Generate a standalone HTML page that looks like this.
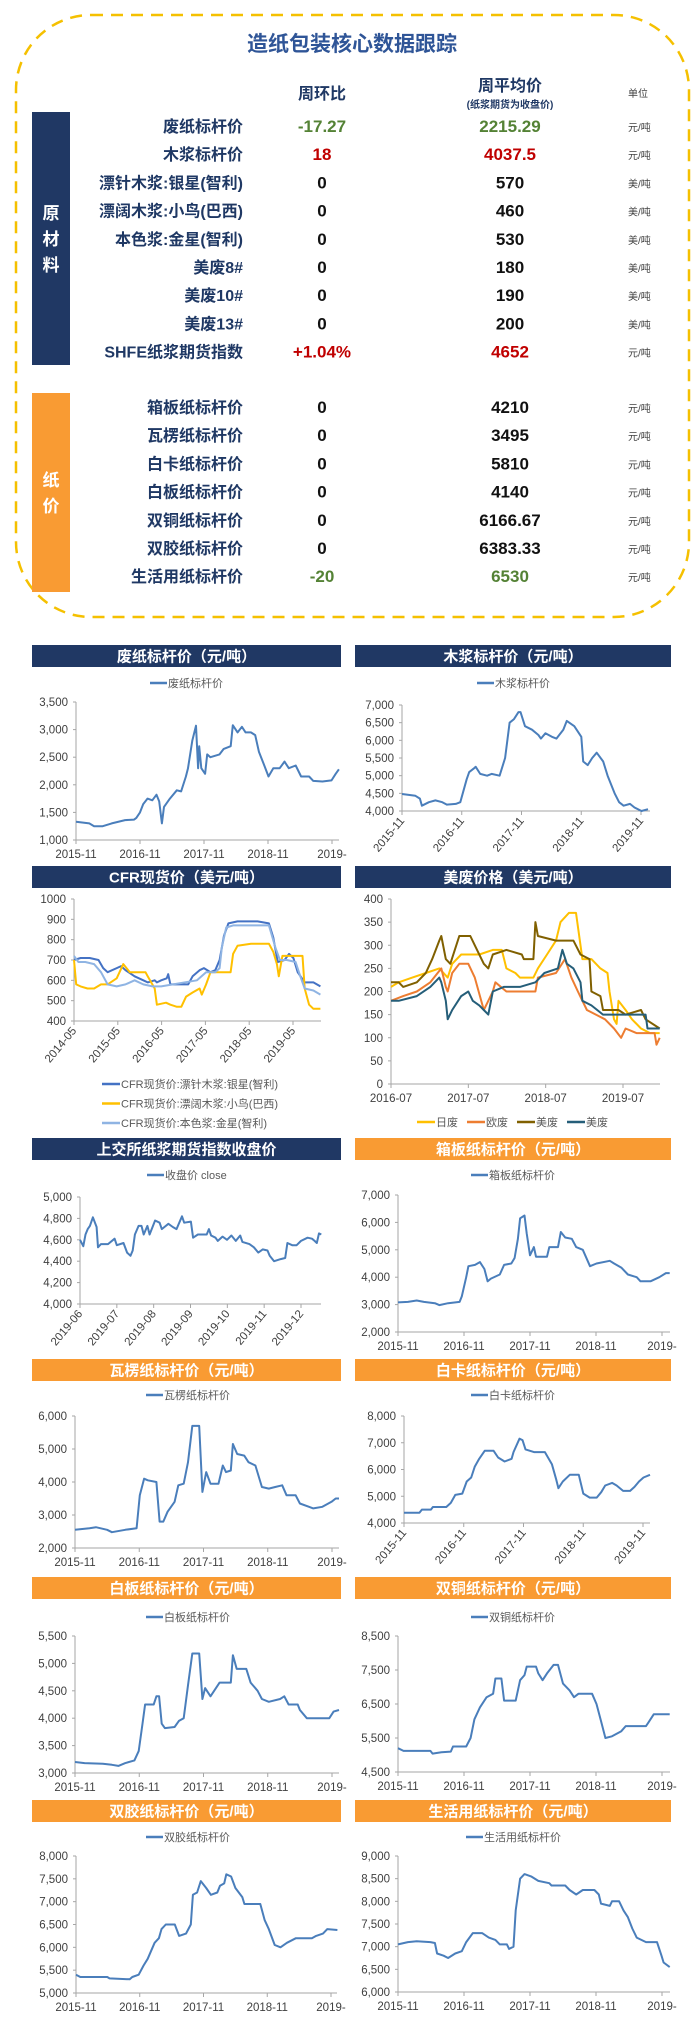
<!DOCTYPE html>
<html><head><meta charset="utf-8"><style>
body{margin:0;background:#fff;width:700px;height:2035px;overflow:hidden;font-family:"Liberation Sans","Noto Sans CJK SC",sans-serif}
svg text{font-family:"Liberation Sans","Noto Sans CJK SC",sans-serif}
</style></head><body>
<svg id="page" width="700" height="2035" viewBox="0 0 700 2035" xmlns="http://www.w3.org/2000/svg">
<g id="tbl">
<rect x="16" y="15" width="673" height="602" rx="75" fill="none" stroke="#f5c000" stroke-width="2.5" stroke-dasharray="12 8"/>
<text x="352" y="51" text-anchor="middle" font-size="21" font-weight="bold" fill="#2f5597">造纸包装核心数据跟踪</text>
<text x="322" y="99" text-anchor="middle" font-size="16" font-weight="bold" fill="#1f3864">周环比</text>
<text x="510" y="91" text-anchor="middle" font-size="16" font-weight="bold" fill="#1f3864">周平均价</text>
<text x="510" y="108" text-anchor="middle" font-size="10" font-weight="bold" fill="#1f3864">(纸浆期货为收盘价)</text>
<text x="628" y="97" font-size="10" fill="#404040">单位</text>
<rect x="32" y="112" width="38" height="253" fill="#203864"/>
<text x="51" y="219" text-anchor="middle" font-size="17" font-weight="bold" fill="#fff">原</text>
<text x="51" y="245" text-anchor="middle" font-size="17" font-weight="bold" fill="#fff">材</text>
<text x="51" y="271" text-anchor="middle" font-size="17" font-weight="bold" fill="#fff">料</text>
<rect x="32" y="393" width="38" height="199" fill="#f99b33"/>
<text x="51" y="486" text-anchor="middle" font-size="17" font-weight="bold" fill="#fff">纸</text>
<text x="51" y="512" text-anchor="middle" font-size="17" font-weight="bold" fill="#fff">价</text>
</g>
<g id="charts"></g>
</svg>
<script>
const NS='http://www.w3.org/2000/svg';
function mk(tag,attrs,parent,txt){const e=document.createElementNS(NS,tag);for(const k in attrs)e.setAttribute(k,attrs[k]);if(txt!==undefined)e.textContent=txt;parent.appendChild(e);return e;}

// ---- table data ----
const rawLabels=['废纸标杆价','木浆标杆价','漂针木浆:银星(智利)','漂阔木浆:小鸟(巴西)','本色浆:金星(智利)','美废8#','美废10#','美废13#','SHFE纸浆期货指数'];
const rawWow=['-17.27','18','0','0','0','0','0','0','+1.04%'];
const rawAvg=['2215.29','4037.5','570','460','530','180','190','200','4652'];
const rawUnit=['元/吨','元/吨','美/吨','美/吨','美/吨','美/吨','美/吨','美/吨','元/吨'];
const paperLabels=['箱板纸标杆价','瓦楞纸标杆价','白卡纸标杆价','白板纸标杆价','双铜纸标杆价','双胶纸标杆价','生活用纸标杆价'];
const paperWow=['0','0','0','0','0','0','-20'];
const paperAvg=['4210','3495','5810','4140','6166.67','6383.33','6530'];
const paperUnit=['元/吨','元/吨','元/吨','元/吨','元/吨','元/吨','元/吨'];

const tbl=document.getElementById('tbl');
function col(v){if(v.startsWith('-'))return '#548235';if(v.startsWith('+')||v==='18')return '#c00000';return '#111';}
function rows(labels,wow,avg,unit,y0,prefix){
  labels.forEach((l,i)=>{
    const y=y0+i*28.2+6;
    const g=mk('g',{},tbl);
    
    
    const c=col(wow[i]);
    mk('text',{x:243,y:y,'text-anchor':'end','font-size':16,'font-weight':'bold',fill:'#1f3864'},g,l);
    mk('text',{x:322,y:y,'text-anchor':'middle','font-size':17,'font-weight':'bold',fill:c},g,wow[i]);
    mk('text',{x:510,y:y,'text-anchor':'middle','font-size':17,'font-weight':'bold',fill:c},g,avg[i]);
    mk('text',{x:628,y:y-1,'font-size':10,fill:'#404040'},g,unit[i]);
  });
}
rows(rawLabels,rawWow,rawAvg,rawUnit,126,'raw-material');
rows(paperLabels,paperWow,paperAvg,paperUnit,407,'paper-price');

// ---- chart data (x = months from first tick) ----
const wasteM=[0,2.5,3.4,5,6.7,9.2,10.9,11.3,12,12.6,13.4,14.3,15.1,15.6,16.1,16.5,17.6,18.9,19.7,20.6,21,21.8,22.5,22.9,23.1,23.5,24.2,24.6,25.2,26.9,27.7,29,29.4,30.3,31.1,31.8,32.8,33.6,34.3,35.3,36.1,37,38.2,39.1,39.9,41.2,42.2,43.7,44.5,46.2,47.9,48.7,49.3];
const wasteV=[1330,1300,1250,1250,1300,1360,1370,1400,1500,1650,1750,1720,1820,1700,1300,1600,1750,1900,1880,2150,2300,2800,3070,2300,2700,2300,2200,2550,2500,2550,2650,2700,3080,2950,3050,2950,2950,2900,2600,2350,2150,2300,2300,2420,2300,2350,2150,2150,2070,2060,2080,2200,2280];
const pulpM=[0,2.7,3.6,4,5.4,6.7,8.1,9,10.8,11.7,13,13.5,14.4,14.8,15.7,17.1,18,19.6,20.7,21.6,22.5,23.4,23.8,24.7,26.1,27.4,27.9,28.8,30.1,31,32.4,33.1,34.6,36,36.4,37.3,38.2,39.1,40.4,41.3,42.7,43.6,44.5,45.8,46.7,48.1,49.4];
const pulpV=[4480,4430,4350,4150,4250,4300,4250,4180,4200,4250,4900,5100,5200,5250,5050,5000,5050,5000,5500,6500,6600,6800,6800,6400,6300,6150,6050,6200,6100,6050,6300,6550,6400,6100,5400,5300,5500,5650,5400,5000,4500,4250,4150,4200,4100,4000,4050];
const cfrAM=[0,1.8,4.3,6.7,8,9.2,11.7,12.9,14.1,16.6,19,20.2,22.1,22.7,23.9,25.4,25.8,26.4,28.8,31.3,32.5,34.4,35.6,37.4,38.7,39.9,41.1,42.3,44.8,50.3,53.4,54.6,55.8,57.7,58.9,60.1,61.3,63.2,65.6,67.5];
const cfrAV=[700,710,710,700,660,640,660,670,650,620,600,590,600,590,600,610,630,580,580,580,620,650,660,640,650,700,820,880,890,890,880,810,690,700,730,710,640,590,590,570];
const cfrBM=[0,0.6,1.8,3.7,5.5,7.4,9.2,11.7,13.5,15.3,17.8,19.6,20.2,22.1,22.7,25.2,26.4,28.2,29.4,30.7,32.5,34.4,35,36.2,37.4,41.1,42.9,43.6,44.8,48.5,53.4,54.6,55.6,56.1,57.1,59.5,62.6,63.2,64.4,65.6,67.5];
const cfrBV=[700,580,570,560,560,580,580,610,680,640,640,640,620,560,480,490,480,470,470,520,540,560,530,580,640,640,640,730,770,780,780,740,680,620,720,720,720,560,480,460,460];
const cfrCM=[0,1.2,3.1,5.5,7.4,9.2,11.7,14.1,16.6,19,21.5,23.9,33.7,36.2,38.7,39.9,40.5,41.7,43.6,48.5,53.4,55.2,56.4,58.3,60.7,62,63.2,65.6,67.5];
const cfrCV=[720,690,690,680,640,580,570,580,600,580,570,570,600,640,640,660,760,860,870,870,870,760,700,700,690,620,560,550,530];
const jpM=[0,1.2,3.3,5.4,7.5,8.8,9.5,10.9,12.3,13.7,15.8,17.2,17.9,19.3,20,22.1,22.8,24.2,25.6,26.3,27.6,28.7,29.4,29.7,31.1,32.5,33.6,33.9,34.6,35,35.3,36.4,37.4,38.8,40.2,41.7];
const jpV=[210,220,230,240,250,230,260,280,280,280,290,290,250,240,230,230,250,280,310,350,370,370,300,270,270,250,240,200,140,130,180,160,140,120,110,110];
const euM=[0,1.9,4,6.1,7.8,8.5,8.8,9.5,10.6,12,13,14.4,15.1,15.8,16.2,17.9,22.4,22.8,25.6,27,28,29,29.7,30.4,31.8,33.2,34.6,35.7,36.4,38.1,40.9,41.2,41.7];
const euV=[180,190,200,220,250,210,200,240,260,260,230,160,180,200,220,200,200,230,240,270,230,200,180,160,150,140,120,100,120,110,110,85,100];
const us1M=[0,1.2,1.9,4,5.4,6.4,7.5,7.8,8.5,9.2,9.9,10.6,12.3,13,14.4,15.1,15.8,17.9,20.3,20.6,22.1,22.4,22.8,25.6,28.3,29.4,30.8,31.1,32.5,32.9,35.3,36.4,38.8,39.5,41.7];
const us1V=[220,220,210,220,240,270,310,320,270,260,290,320,320,300,260,250,280,290,280,270,270,350,320,310,310,280,270,200,190,160,160,150,160,140,120];
const us2M=[0,1.2,4,6.1,7.5,7.8,8.5,8.8,9.5,10.9,12,12.7,13.7,14.4,15.1,15.8,17.5,20,22.4,23.8,25.9,26.6,27.3,28.3,29.4,29.7,31.1,32.9,35.3,39.5,39.8,41.7];
const us2V=[180,180,190,210,230,220,180,140,160,190,200,180,170,160,150,200,210,210,220,240,250,290,260,250,220,180,170,150,150,150,120,120];
const shfeM=[0,.09,.15,.21,.27,.35,.45,.49,.57,.76,.94,1,1.18,1.28,1.37,1.43,1.49,1.59,1.67,1.73,1.83,1.89,2.04,2.16,2.22,2.4,2.52,2.62,2.77,2.83,3.01,3.07,3.2,3.44,3.5,3.56,3.68,3.74,3.87,3.99,4.11,4.23,4.35,4.41,4.6,4.72,4.84,4.96,5.09,5.15,5.27,5.45,5.57,5.63,5.76,5.88,6,6.18,6.3,6.37,6.43,6.49,6.55];
const shfeV=[4600,4540,4650,4700,4730,4810,4720,4530,4560,4560,4610,4550,4570,4480,4450,4500,4650,4730,4730,4650,4730,4650,4780,4760,4700,4750,4720,4700,4820,4760,4770,4620,4650,4650,4700,4640,4620,4590,4630,4600,4640,4590,4640,4580,4560,4530,4480,4510,4500,4450,4400,4420,4430,4570,4550,4550,4590,4620,4610,4590,4570,4660,4650];
const boxM=[0,1.8,3.4,4.7,6.7,7.5,9.1,11.2,11.6,12.4,12.8,14,14.9,15.7,16.3,16.9,18.5,19.3,20.6,21.2,21.8,22.2,23,23.4,24,24.7,25.1,27.1,27.5,29.1,29.6,30.4,31.6,32.4,33.6,34.9,36.1,38.5,39.3,40.6,41.8,43.4,44.1,45.9,47.5,48.7,49.4];
const boxV=[3080,3100,3150,3100,3050,2980,3050,3100,3300,4000,4400,4450,4550,4300,3850,3950,4100,4450,4500,4700,5400,6150,6250,5600,4800,5100,4750,4750,5100,5100,5650,5450,5400,5100,5000,4400,4500,4600,4500,4350,4100,4000,3850,3850,4000,4150,4150];
const corrM=[0,2.7,3.9,6,6.9,9.4,11.5,12.1,12.9,13.6,15.2,15.8,16.5,17.3,18.6,19.3,20.3,21.1,21.9,23.2,23.8,24.5,25.3,26.8,27.6,28.2,29.1,29.5,30.3,31.6,32.4,33.7,34.9,36.2,37.4,38.7,39.5,41.2,42,43.7,44.5,46.2,47.9,48.7,49.3];
const corrV=[2550,2600,2630,2550,2480,2550,2600,3600,4100,4050,4000,2800,2800,3100,3400,3900,3950,4600,5700,5700,3700,4300,3950,3950,4500,4300,4350,5150,4850,4800,4600,4500,3850,3800,3850,3900,3600,3600,3350,3250,3200,3250,3400,3500,3500];
const ivoryM=[0,3.1,3.6,5.4,5.8,8.5,9.4,10.3,11.7,12.6,13.5,14.2,15.1,16.2,18,18.9,20.2,21.6,22,23.2,23.8,24.4,26.1,28.3,29.7,30.6,31,31.9,33.3,35.1,36,37.3,38.7,39.6,40.4,41.8,42.7,44,45.4,46.3,47.2,48.1,49.4];
const ivoryV=[4380,4380,4500,4500,4600,4600,4750,5050,5100,5550,5700,6100,6400,6700,6700,6450,6300,6400,6650,7150,7100,6750,6650,6650,6200,5600,5300,5550,5800,5800,5100,4950,4950,5150,5400,5500,5400,5200,5200,5350,5550,5700,5800];
const whiteM=[0,1.8,5.2,6.9,8.1,9.4,11.1,11.9,12.6,13.1,14.7,15.2,15.7,16.2,16.8,18.6,19.4,20.3,21.1,21.9,23.2,23.8,24.3,25.3,27,29.1,29.5,30.2,32,32.8,34.1,34.9,36.2,38.3,39.1,39.9,41.6,42,43.3,47.5,48.3,49.3];
const whiteV=[3200,3180,3170,3150,3130,3180,3230,3400,3900,4250,4250,4400,4400,3900,3820,3840,3950,4000,4600,5180,5180,4350,4550,4400,4650,4650,5150,4900,4900,4650,4500,4350,4300,4350,4400,4250,4250,4150,4000,4000,4120,4150];
const coatM=[0,1,5.9,6.3,7.9,9.6,10,12.4,13.2,13.9,14.9,16.1,17.3,17.7,18.8,19.3,21.4,22.2,23,23.4,25.1,25.5,26.3,27.1,28.3,29.1,30,31.2,32,32.8,35.3,36.1,36.9,37.7,38.9,40.6,41.4,45.1,45.5,46.5,49.4];
const coatV=[5200,5120,5120,5040,5080,5100,5250,5250,5500,6050,6400,6700,6800,7250,7250,6600,6600,7200,7350,7600,7600,7400,7200,7400,7650,7650,7100,6900,6700,6800,6800,6500,6000,5500,5550,5700,5850,5850,5950,6200,6200];
const offM=[0,.8,5.9,6.3,10.1,10.6,11.8,12.7,13.5,14.8,15.6,16.1,16.9,18.6,19.4,20.7,21.6,22,22.8,23.5,24.5,25.4,26.6,27.1,27.9,28.3,29.2,30,31.3,31.7,34.7,35.5,36.3,37.4,38.5,39.7,41.4,44.4,45.2,46.5,47.3,49.2];
const offV=[5400,5350,5350,5320,5300,5350,5400,5600,5750,6100,6200,6400,6500,6500,6250,6300,6500,7150,7200,7450,7300,7150,7200,7350,7400,7600,7550,7300,7100,6950,6950,6600,6400,6050,6000,6100,6200,6200,6250,6300,6400,6380];
const tissueM=[0,1.8,3.4,5.9,6.7,7.1,8.3,9.1,10.4,11.6,12.4,13.6,15.3,16.5,17.7,18.5,19.8,20.2,21,21.4,22.2,23,24.2,25.5,27.5,27.9,30.4,31.2,32.4,33.6,35.7,36.5,36.9,38.5,38.9,40.2,41,41.8,42.6,43.4,45.1,47.1,47.9,48.3,49.4];
const tissueV=[7050,7100,7120,7100,7080,6850,6800,6750,6850,6900,7100,7300,7300,7200,7150,7050,7050,6950,7000,7800,8500,8600,8550,8450,8400,8350,8350,8250,8150,8250,8250,8150,7950,7900,8000,8000,7800,7650,7400,7200,7100,7100,6800,6650,6550];

const yearTicks=['2015-11','2016-11','2017-11','2018-11','2019-'];
const yearTicksR=['2015-11','2016-11','2017-11','2018-11','2019-11'];
const cfrTicks=['2014-05','2015-05','2016-05','2017-05','2018-05','2019-05'];
const usTicks=['2016-07','2017-07','2018-07','2019-07'];
const shfeTicks=['2019-06','2019-07','2019-08','2019-09','2019-10','2019-11','2019-12'];

const BLUE='#4a7ebb';
const charts=[
 {name:'waste-paper',title:'废纸标杆价（元/吨）',hc:'#203864',hx:32,hw:309,H:645,x0:76,x1:339,tx1:332,tspan:48,yt:702,yb:840,ymin:1000,ymax:3500,ystep:500,comma:1,ticks:yearTicks,rot:0,
  series:[{n:'废纸标杆价',m:wasteM,v:wasteV,c:BLUE}],leg:{y:683,x:150}},
 {name:'wood-pulp',title:'木浆标杆价（元/吨）',hc:'#203864',hx:355,hw:316,H:645,x0:402,x1:650,tx1:641,tspan:48,yt:705,yb:811,ymin:4000,ymax:7000,ystep:500,comma:1,ticks:yearTicksR,rot:1,
  series:[{n:'木浆标杆价',m:pulpM,v:pulpV,c:BLUE}],leg:{y:683,x:477}},
 {name:'cfr-spot',title:'CFR现货价（美元/吨）',hc:'#203864',hx:32,hw:309,H:866,x0:74,x1:321,tx1:293,tspan:60,yt:899,yb:1021,ymin:400,ymax:1000,ystep:100,comma:0,ticks:cfrTicks,rot:1,
  series:[{n:'CFR现货价:漂针木浆:银星(智利)',m:cfrAM,v:cfrAV,c:'#4472c4'},{n:'CFR现货价:漂阔木浆:小鸟(巴西)',m:cfrBM,v:cfrBV,c:'#ffc000'},{n:'CFR现货价:本色浆:金星(智利)',m:cfrCM,v:cfrCV,c:'#8fb4e3'}],legV:{x:102,y:1084,dy:19.5}},
 {name:'us-waste',title:'美废价格（美元/吨）',hc:'#203864',hx:355,hw:316,H:866,x0:391,x1:660,tx1:623,tspan:36,yt:899,yb:1084,ymin:0,ymax:400,ystep:50,comma:0,ticks:usTicks,rot:0,
  series:[{n:'日废',m:jpM,v:jpV,c:'#ffc000'},{n:'欧废',m:euM,v:euV,c:'#ed7d31'},{n:'美废',m:us1M,v:us1V,c:'#806000'},{n:'美废',m:us2M,v:us2V,c:'#255e79'}],legH:{x:417,y:1122,dx:50}},
 {name:'shfe-pulp',title:'上交所纸浆期货指数收盘价',hc:'#203864',hx:32,hw:309,H:1138,x0:80,x1:321,tx1:301,tspan:6,yt:1197,yb:1304,ymin:4000,ymax:5000,ystep:200,comma:1,ticks:shfeTicks,rot:1,
  series:[{n:'收盘价 close',m:shfeM,v:shfeV,c:BLUE}],leg:{y:1175,x:147}},
 {name:'boxboard',title:'箱板纸标杆价（元/吨）',hc:'#f99b33',hx:355,hw:316,H:1138,x0:398,x1:670,tx1:662,tspan:48,yt:1195,yb:1332,ymin:2000,ymax:7000,ystep:1000,comma:1,ticks:yearTicks,rot:0,
  series:[{n:'箱板纸标杆价',m:boxM,v:boxV,c:BLUE}],leg:{y:1175,x:471}},
 {name:'corrugated',title:'瓦楞纸标杆价（元/吨）',hc:'#f99b33',hx:32,hw:309,H:1359,x0:75,x1:339,tx1:332,tspan:48,yt:1416,yb:1548,ymin:2000,ymax:6000,ystep:1000,comma:1,ticks:yearTicks,rot:0,
  series:[{n:'瓦楞纸标杆价',m:corrM,v:corrV,c:BLUE}],leg:{y:1395,x:146}},
 {name:'ivory-board',title:'白卡纸标杆价（元/吨）',hc:'#f99b33',hx:355,hw:316,H:1359,x0:404,x1:650,tx1:643,tspan:48,yt:1416,yb:1523,ymin:4000,ymax:8000,ystep:1000,comma:1,ticks:yearTicksR,rot:1,
  series:[{n:'白卡纸标杆价',m:ivoryM,v:ivoryV,c:BLUE}],leg:{y:1395,x:471}},
 {name:'white-board',title:'白板纸标杆价（元/吨）',hc:'#f99b33',hx:32,hw:309,H:1577,x0:75,x1:339,tx1:332,tspan:48,yt:1636,yb:1773,ymin:3000,ymax:5500,ystep:500,comma:1,ticks:yearTicks,rot:0,
  series:[{n:'白板纸标杆价',m:whiteM,v:whiteV,c:BLUE}],leg:{y:1617,x:146}},
 {name:'coated-paper',title:'双铜纸标杆价（元/吨）',hc:'#f99b33',hx:355,hw:316,H:1577,x0:398,x1:670,tx1:662,tspan:48,yt:1636,yb:1772,ymin:4500,ymax:8500,ystep:1000,comma:1,ticks:yearTicks,rot:0,
  series:[{n:'双铜纸标杆价',m:coatM,v:coatV,c:BLUE}],leg:{y:1617,x:471}},
 {name:'offset-paper',title:'双胶纸标杆价（元/吨）',hc:'#f99b33',hx:32,hw:309,H:1800,x0:76,x1:337,tx1:331,tspan:48,yt:1856,yb:1993,ymin:5000,ymax:8000,ystep:500,comma:1,ticks:yearTicks,rot:0,
  series:[{n:'双胶纸标杆价',m:offM,v:offV,c:BLUE}],leg:{y:1837,x:146}},
 {name:'tissue-paper',title:'生活用纸标杆价（元/吨）',hc:'#f99b33',hx:355,hw:316,H:1800,x0:398,x1:670,tx1:662,tspan:48,yt:1856,yb:1992,ymin:6000,ymax:9000,ystep:500,comma:1,ticks:yearTicks,rot:0,
  series:[{n:'生活用纸标杆价',m:tissueM,v:tissueV,c:BLUE}],leg:{y:1837,x:466}}
];

const root=document.getElementById('charts');
function fmt(v,c){return c?v.toLocaleString('en-US'):String(v);}
charts.forEach(cf=>{
  const g=mk('g',{},root);
  
  
  const hr=mk('rect',{x:cf.hx,y:cf.H,width:cf.hw,height:22,fill:cf.hc},g);
  
  
  const ht=mk('text',{x:cf.hx+cf.hw/2,y:cf.H+16.5,'text-anchor':'middle','font-size':15,'font-weight':'bold',fill:'#fff'},g,cf.title);
  
  
  const xs=m=>cf.x0+(cf.tx1-cf.x0)*m/cf.tspan;
  const ys=v=>cf.yb-(v-cf.ymin)/(cf.ymax-cf.ymin)*(cf.yb-cf.yt);
  // y axis
  const ya=mk('line',{x1:cf.x0,y1:cf.yt,x2:cf.x0,y2:cf.yb,stroke:'#a6a6a6','stroke-width':1},g);
  
  
  for(let v=cf.ymin;v<=cf.ymax+1e-6;v+=cf.ystep){
    mk('line',{x1:cf.x0-3,y1:ys(v),x2:cf.x0,y2:ys(v),stroke:'#a6a6a6'},g);
    const t=mk('text',{x:cf.x0-8,y:ys(v)+4,'text-anchor':'end','font-size':11.5,fill:'#404040'},g,fmt(v,cf.comma));
    
    
  }
  const xa=mk('line',{x1:cf.x0,y1:cf.yb,x2:cf.x1,y2:cf.yb,stroke:'#a6a6a6','stroke-width':1},g);
  
  
  const step=cf.tspan/(cf.ticks.length-1);
  cf.ticks.forEach((lab,i)=>{
    const x=xs(i*step);
    mk('line',{x1:x,y1:cf.yb,x2:x,y2:cf.yb+4,stroke:'#a6a6a6'},g);
    let t;
    if(cf.rot){t=mk('text',{x:x+3,y:cf.yb+10,'text-anchor':'end','font-size':11.5,fill:'#404040',transform:`rotate(-50 ${x+3} ${cf.yb+10})`},g,lab);}
    else{t=mk('text',{x:x,y:cf.yb+18,'text-anchor':'middle','font-size':11.5,fill:'#404040'},g,lab);}
    
    
  });
  // series
  cf.series.forEach((s,si)=>{
    const pts=s.m.map((m,i)=>xs(m).toFixed(1)+','+ys(s.v[i]).toFixed(1)).join(' ');
    const pl=mk('polyline',{points:pts,fill:'none',stroke:s.c,'stroke-width':2,'stroke-linejoin':'round'},g);
    
    
  });
  // legends
  if(cf.leg){
    const lg=mk('g',{},g);
    
    
    mk('line',{x1:cf.leg.x,y1:cf.leg.y,x2:cf.leg.x+17,y2:cf.leg.y,stroke:cf.series[0].c,'stroke-width':2.5},lg);
    mk('text',{x:cf.leg.x+18,y:cf.leg.y+4,'font-size':11,fill:'#595959'},lg,cf.series[0].n);
  }
  if(cf.legV){
    cf.series.forEach((s,i)=>{
      const lg=mk('g',{},g);
      
      
      const y=cf.legV.y+i*cf.legV.dy;
      mk('line',{x1:cf.legV.x,y1:y,x2:cf.legV.x+18,y2:y,stroke:s.c,'stroke-width':2.5},lg);
      mk('text',{x:cf.legV.x+19,y:y+4,'font-size':11,fill:'#595959'},lg,s.n);
    });
  }
  if(cf.legH){
    cf.series.forEach((s,i)=>{
      const lg=mk('g',{},g);
      
      
      const x=cf.legH.x+i*cf.legH.dx;
      mk('line',{x1:x,y1:cf.legH.y,x2:x+18,y2:cf.legH.y,stroke:s.c,'stroke-width':2.5},lg);
      mk('text',{x:x+19,y:cf.legH.y+4,'font-size':11,fill:'#595959'},lg,s.n);
    });
  }
});
</script>
</body></html>
